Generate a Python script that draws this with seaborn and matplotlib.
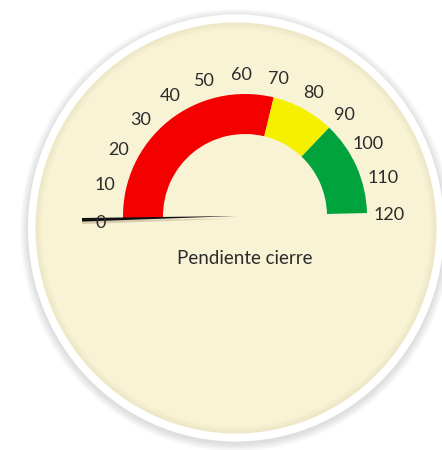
import numpy as np
import matplotlib
matplotlib.use("Agg")
import matplotlib.pyplot as plt
from matplotlib.patches import Wedge, Ellipse, Polygon
import seaborn as sns

# gauge data
band_edges = [0, 70, 90, 120]
band_colors = ["#F50000", "#F5F000", "#00A33C"]
tick_values = [0, 10, 20, 30, 40, 50, 60, 70, 80, 90, 100, 110, 120]
tick_labels = ["0", "10", "20", "30", "40", "50", "60", "70", "80", "90", "100", "110", "120"]
needle_value = 0
gauge_title = "Pendiente cierre"
vmin, vmax = 0, 120

sns.set_theme(style="white")
plt.rcParams['font.family'] = ['Lato', 'DejaVu Sans']

# pixel-like coordinates, y pointing down
cx, cy = 245, 216
r_out, r_in = 122, 82
r_lab = 144
r_needle = 163
tilt = -1.4  # the dial is drawn slightly rotated


def angle(v):
    return 180 + tilt + 180 * (v - vmin) / (vmax - vmin)


fig = plt.figure(figsize=(4.42, 4.5), dpi=100)
ax = fig.add_axes([0, 0, 1, 1])
ax.set_xlim(0, 442)
ax.set_ylim(450, 0)
ax.set_aspect('equal')
ax.axis('off')
fig.patch.set_facecolor('white')

# dial background: shadow, white rim, cream face with slightly darker edge
ex, ey = 236, 228
for k in range(8, 0, -1):
    ax.add_patch(Ellipse((ex, ey + 2), 416 + 2 * k, 427 + 2 * k,
                         facecolor='#000000', alpha=0.016, lw=0))
ax.add_patch(Ellipse((ex, ey), 416, 427, facecolor='white', lw=0))
rim = sns.blend_palette(['#EDE7C6', '#F8F3D5'], 8)
for i, col in enumerate(rim):
    ax.add_patch(Ellipse((ex, ey), 401 - 2 * i, 411 - 2 * i, facecolor=col, lw=0))

# colour bands
for lo, hi, col in zip(band_edges[:-1], band_edges[1:], band_colors):
    ax.add_patch(Wedge((cx, cy), r_out, angle(lo), angle(hi),
                       width=r_out - r_in, facecolor=col, lw=0))

# tick labels
for v, lab in zip(tick_values, tick_labels):
    t = np.deg2rad(angle(v))
    ax.text(cx + r_lab * np.cos(t), cy + r_lab * np.sin(t) + 3, lab,
            ha='center', va='center', fontsize=13, color='#2b2b2b')

# needle
t = np.deg2rad(angle(needle_value))
d = np.array([np.cos(t), np.sin(t)])
n = np.array([-d[1], d[0]])
base = np.array([cx - 8, cy])
tip = base + d * (r_needle - 8)
for off, col, a in [(2.5, '#7a5a3a', 0.25), (0, '#111111', 1.0)]:
    pts = [base + np.array([0, off]), tip + n * 1.8 + np.array([0, off]),
           tip - n * 1.8 + np.array([0, off])]
    ax.add_patch(Polygon(pts, closed=True, facecolor=col, alpha=a, lw=0))

ax.text(cx, 258, gauge_title, ha='center', va='center', fontsize=13.5, color='#2b2b2b')

fig.savefig('out.png', dpi=100)
